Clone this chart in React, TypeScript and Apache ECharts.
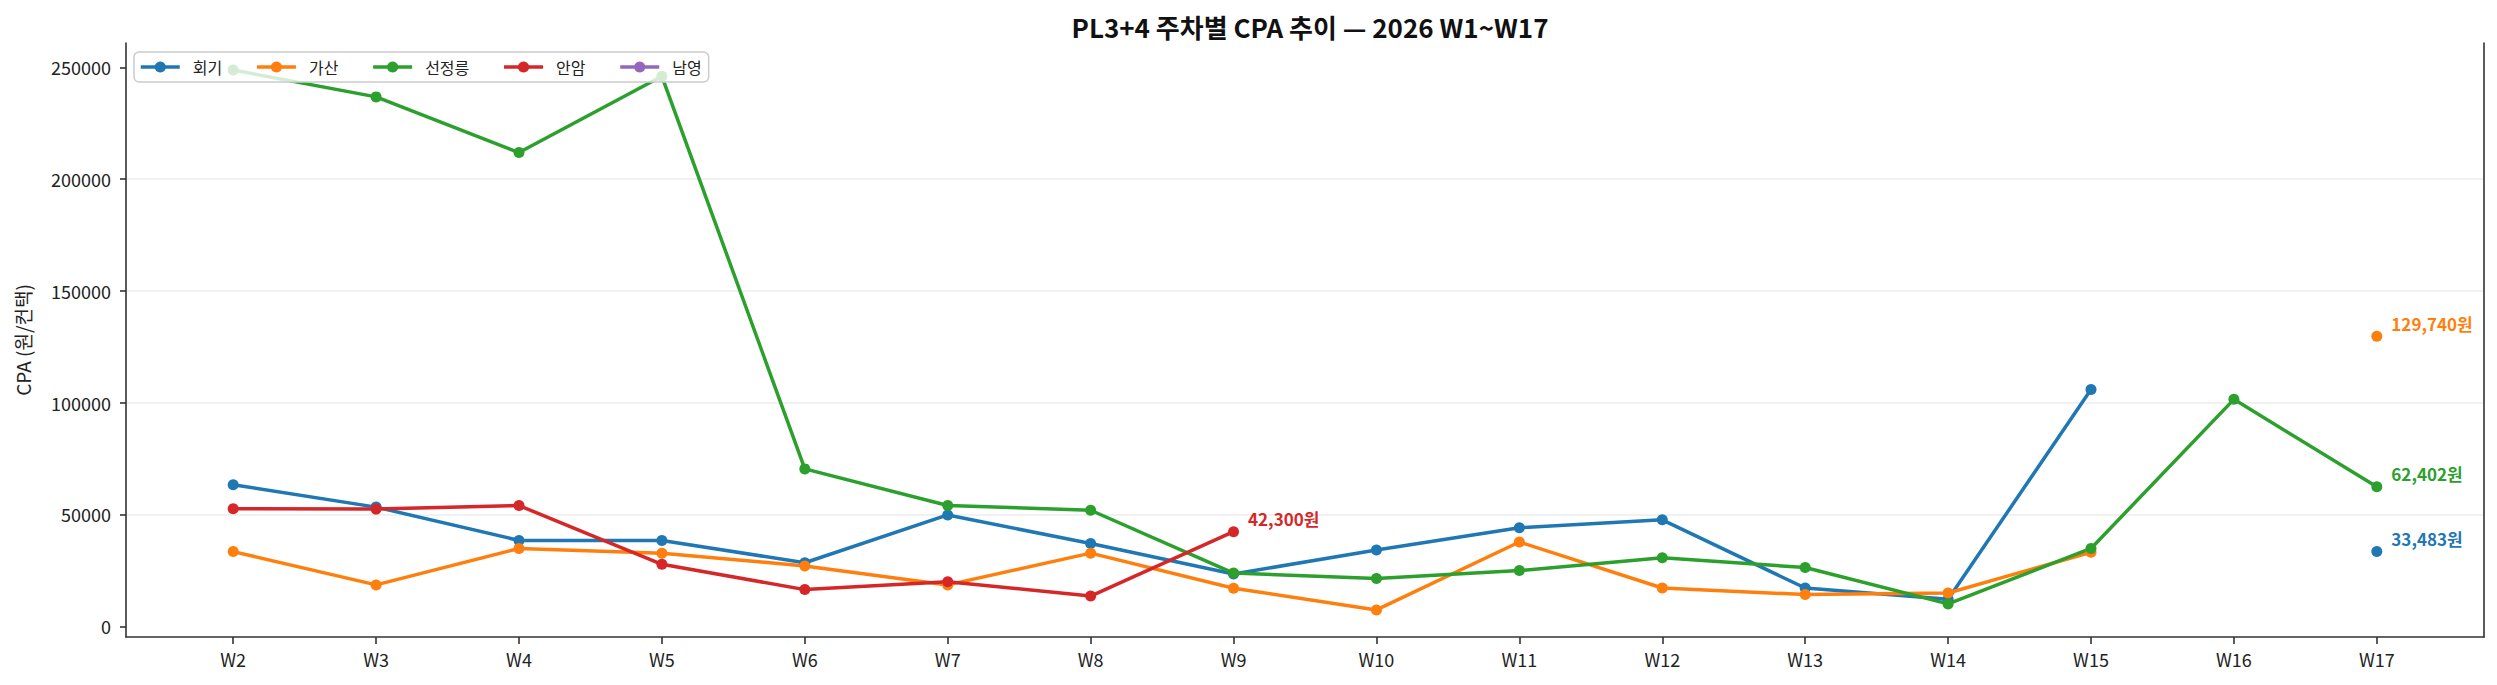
import React, { useEffect, useRef } from 'react';
import * as echarts from 'echarts';

const weeks = ['W2', 'W3', 'W4', 'W5', 'W6', 'W7', 'W8', 'W9', 'W10', 'W11', 'W12', 'W13', 'W14', 'W15', 'W16', 'W17'];

// 회기
const hoegi = [63300, 53300, 38400, 38400, 28400, 49800, 37000, 23400, 34100, 44100, 47600, 17100, 12100, 105900, null, 33483];
// 가산
const gasan = [33400, 18500, 34800, 32700, 27000, 18500, 32700, 17000, 7300, 37700, 17100, 14200, 14900, 33100, null, 129740];
// 선정릉
const seonjeong = [248800, 236800, 211900, 246000, 70400, 54000, 51900, 23800, 21400, 24900, 30600, 26300, 10000, 34800, 101500, 62402];
// 안암
const anam = [52600, 52400, 54000, 27700, 16400, 19900, 13500, 42300, null, null, null, null, null, null, null, null];
// 남영 (no data)
const namyeong: (number | null)[] = weeks.map(() => null);

const yTicks = [0, 50000, 100000, 150000, 200000, 250000];

const FONT = '"Noto Sans CJK KR", "Noto Sans", sans-serif';

const lastIndex = (values: (number | null)[]) => {
    for (let i = values.length - 1; i >= 0; i--) {
        if (values[i] != null) return i;
    }
    return -1;
};

const makeSeries = (name: string, values: (number | null)[], color: string) => {
    const last = lastIndex(values);
    return {
        name,
        type: 'line',
        color,
        symbol: 'circle',
        symbolSize: 11,
        showAllSymbol: true,
        connectNulls: false,
        lineStyle: { width: 3.5, color },
        itemStyle: { color },
        emphasis: { disabled: true },
        data: values.map((v, i) => {
            if (v == null) return [i, null];
            if (i === last) {
                return {
                    value: [i, v],
                    label: {
                        show: true,
                        position: 'right',
                        distance: 9,
                        offset: [0, -13],
                        formatter: `${v.toLocaleString('en-US')}원`,
                        color,
                        fontFamily: FONT,
                        fontSize: 17,
                        fontWeight: 'bold'
                    }
                };
            }
            return [i, v];
        })
    };
};

const App: React.FC = () => {
    const chartRef = useRef<HTMLDivElement>(null);

    useEffect(() => {
        if (!chartRef.current) return;
        document.body.style.margin = '0';

        const myChart = echarts.init(chartRef.current, null, { renderer: 'svg' });

        const yMin = -4800;
        const yMax = 260900;

        const option: echarts.EChartsOption = {
            animation: false,
            backgroundColor: '#ffffff',
            textStyle: { fontFamily: FONT },
            title: {
                text: 'PL3+4 주차별 CPA 추이 — 2026 W1~W17',
                left: 1305,
                top: 8,
                textAlign: 'center',
                textStyle: {
                    fontFamily: FONT,
                    fontSize: 26,
                    fontWeight: 'bold',
                    color: '#111'
                }
            },
            legend: {
                data: ['회기', '가산', '선정릉', '안암', '남영'],
                left: 134,
                top: 52,
                orient: 'horizontal',
                itemWidth: 39,
                itemHeight: 14,
                itemGap: 33,
                padding: [7, 7, 7, 5],
                backgroundColor: 'rgba(255,255,255,0.8)',
                borderColor: '#cccccc',
                borderWidth: 1.5,
                borderRadius: 5,
                lineStyle: { width: 3.5 },
                textStyle: {
                    fontFamily: FONT,
                    fontSize: 16,
                    color: '#222',
                    padding: [0, 0, 0, 8]
                }
            },
            grid: {
                left: 126,
                right: 13,
                top: 43,
                bottom: 48,
                containLabel: false
            },
            xAxis: {
                type: 'value',
                min: -0.75,
                max: 15.75,
                axisLine: { show: true, onZero: false, lineStyle: { color: '#333', width: 1.6 } },
                axisTick: {
                    show: true,
                    length: 7,
                    customValues: weeks.map((_, i) => i),
                    lineStyle: { color: '#333', width: 1.6 }
                },
                axisLabel: {
                    customValues: weeks.map((_, i) => i),
                    formatter: (v: number) => weeks[Math.round(v)] ?? '',
                    fontFamily: FONT,
                    fontSize: 18,
                    color: '#222',
                    margin: 13
                },
                splitLine: { show: false }
            },
            yAxis: [
                {
                    type: 'value',
                    min: yMin,
                    max: yMax,
                    name: 'CPA (원/컨택)',
                    nameLocation: 'middle',
                    nameGap: 94,
                    nameTextStyle: { fontFamily: FONT, fontSize: 19, color: '#222' },
                    axisLine: { show: true, onZero: false, lineStyle: { color: '#333', width: 1.6 } },
                    axisTick: {
                        show: true,
                        length: 6,
                        customValues: yTicks,
                        lineStyle: { color: '#333', width: 1.6 }
                    },
                    axisLabel: {
                        customValues: yTicks,
                        formatter: (v: number) => String(v),
                        fontFamily: FONT,
                        fontSize: 18,
                        color: '#222',
                        margin: 15
                    },
                    splitLine: {
                        show: true,
                        showMinLine: false,
                        showMaxLine: false,
                        lineStyle: { color: '#ececec', width: 1.5 }
                    }
                },
                {
                    type: 'value',
                    position: 'right',
                    min: yMin,
                    max: yMax,
                    axisLine: { show: true, onZero: false, lineStyle: { color: '#333', width: 1.6 } },
                    axisTick: { show: false },
                    axisLabel: { show: false },
                    splitLine: { show: false }
                }
            ],
            series: [
                makeSeries('회기', hoegi, '#1f77b4'),
                makeSeries('가산', gasan, '#ff7f0e'),
                makeSeries('선정릉', seonjeong, '#2ca02c'),
                makeSeries('안암', anam, '#d62728'),
                makeSeries('남영', namyeong, '#9467bd')
            ] as any
        };

        myChart.setOption(option);

        return () => {
            myChart.dispose();
        };
    }, []);

    return (
        <div
            ref={chartRef}
            style={{
                position: 'absolute',
                left: 0,
                top: 0,
                width: '2497px',
                height: '685px'
            }}
        />
    );
};

export default App;
